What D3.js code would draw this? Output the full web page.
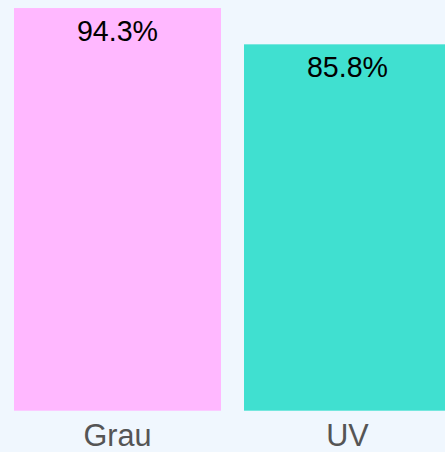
<!DOCTYPE html>
<html><head><meta charset="utf-8">
<script src="https://cdn.jsdelivr.net/npm/d3@7"></script>
<style>html,body{margin:0;padding:0;background:#f0f7fe;}svg{display:block;}</style>
</head><body>
<script>
const categories = ["Grau", "UV"];
const values = [94.3, 85.8];
const colors = ["#ffb8ff", "#40e0d0"];

const W = 445, H = 452;
const svg = d3.select("body").append("svg").attr("width", W).attr("height", H)
  .style("font-family", "Liberation Sans, Arial, sans-serif");
svg.append("rect").attr("width", W).attr("height", H).attr("fill", "#f0f7fe");

const x = d3.scaleBand().domain(categories).range([2.5, 462.5]).paddingInner(0.1).paddingOuter(0.05);
const y = d3.scaleLinear().domain([0, 100]).range([410.7, -16.3]);

svg.selectAll("rect.bar").data(values).join("rect").attr("class", "bar")
  .attr("x", (d, i) => x(categories[i]))
  .attr("width", x.bandwidth())
  .attr("y", d => y(d))
  .attr("height", d => y(0) - y(d))
  .attr("fill", (d, i) => colors[i]);

svg.selectAll("text.val").data(values).join("text").attr("class", "val")
  .attr("x", (d, i) => x(categories[i]) + x.bandwidth() / 2)
  .attr("y", d => y(d) + 32.5)
  .attr("text-anchor", "middle")
  .attr("font-size", 28.6)
  .attr("fill", "#000")
  .text(d => d.toFixed(1) + "%");

const ax = svg.append("g").attr("transform", `translate(0,${y(0)})`)
  .call(d3.axisBottom(x).tickSize(0).tickPadding(0));
ax.select(".domain").remove();
ax.selectAll("text").attr("font-size", 30.6).attr("fill", "#555")
  .attr("dy", null).attr("y", 35.5)
  .style("font-family", "Liberation Sans, Arial, sans-serif");
</script>
</body></html>
